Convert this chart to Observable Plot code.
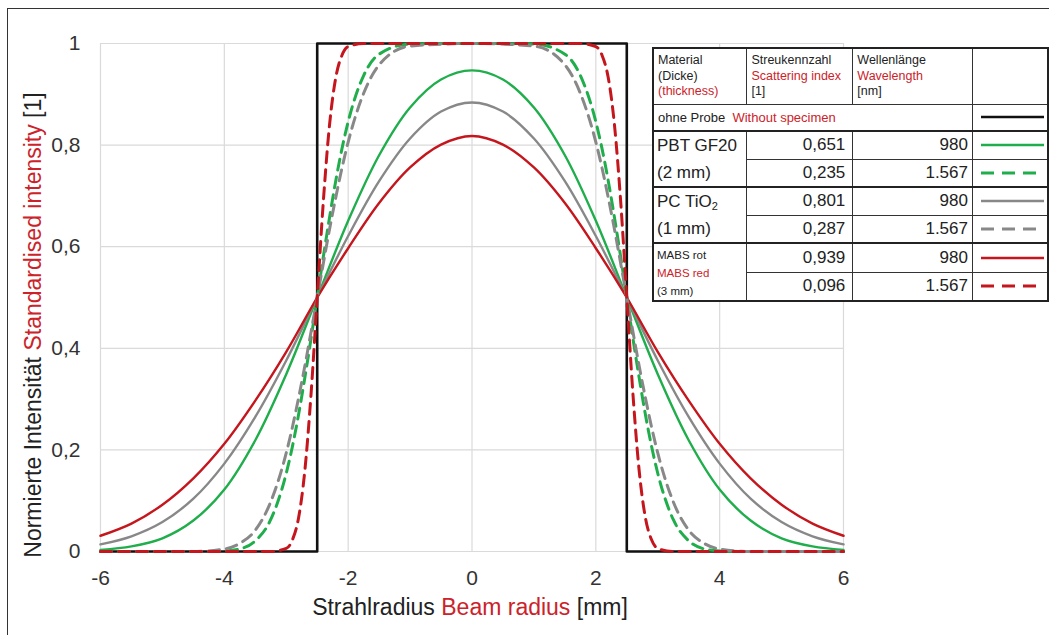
<!DOCTYPE html>
<html><head><meta charset="utf-8">
<script src="https://cdn.jsdelivr.net/npm/d3@7"></script>
<script src="https://cdn.jsdelivr.net/npm/@observablehq/plot@0.6"></script>
<style>
body{margin:0;background:#fff;font-family:"Liberation Sans",Arial,Helvetica,sans-serif;}
#wrap{position:relative;width:1049px;height:635px;overflow:hidden;background:#fff}
#chart{position:absolute;left:0;top:0}
#frame{position:absolute;left:7px;top:8px;width:1100px;height:700px;border-left:1.5px solid #333;border-top:1.5px solid #333;pointer-events:none}
#legend{position:absolute;left:652px;top:47px;border-collapse:collapse;table-layout:fixed;background:#fff;color:#222;border:2px solid #222}
#legend td{padding:0;border:1px solid #333;overflow:hidden;white-space:nowrap}
#legend .hd{vertical-align:top;font-size:12.5px;line-height:15.5px;padding:4px 0 0 4px}
#legend .big{font-size:17px;line-height:27px;vertical-align:top;padding-left:3px}
#legend .small{font-size:11.5px;line-height:18px;vertical-align:top;padding:2px 0 0 3px}
#legend .num{font-size:17px;text-align:right;line-height:20px}
#legend .c2{padding-right:7px}
#legend .c3{padding-right:4px}
#legend .sep td{border-top:2px solid #222}
#legend sub{font-size:11px;line-height:0;vertical-align:-3px}
.red{color:#cc2229}
</style></head>
<body><div id="wrap"><div id="chart"></div><div id="frame"></div><table id="legend"></table></div>
<script>
// ---- data ----
const xTicks = [-6, -4, -2, 0, 2, 4, 6];
const xTickLabels = ["-6", "-4", "-2", "0", "2", "4", "6"];
const yTicks = [0, 0.2, 0.4, 0.6, 0.8, 1];
const yTickLabels = ["0", "0,2", "0,4", "0,6", "0,8", "1"];

const xTitle = ["Strahlradius ", "Beam radius", " [mm]"];
const yTitle = ["Normierte Intensität ", "Standardised intensity", " [1]"];

// without specimen (top-hat)
const xOhne = [-6, -2.5, -2.5, 2.5, 2.5, 6];
const yOhne = [0, 0, 1, 1, 0, 0];

// solid curves (980 nm)
const xSolid = [-6,-5.5,-5,-4.5,-4,-3.5,-3,-2.5,-2,-1.5,-1,-0.5,0,0.5,1,1.5,2,2.5,3,3.5,4,4.5,5,5.5,6];
const pbt980  = [0.003,0.010,0.026,0.061,0.122,0.219,0.349,0.500,0.651,0.780,0.874,0.929,0.947,0.929,0.874,0.780,0.651,0.500,0.349,0.219,0.122,0.061,0.026,0.010,0.003];
const pc980   = [0.014,0.030,0.058,0.104,0.173,0.265,0.376,0.500,0.621,0.729,0.813,0.866,0.884,0.866,0.813,0.729,0.621,0.500,0.376,0.265,0.173,0.104,0.058,0.030,0.014];
const mabs980 = [0.031,0.055,0.092,0.144,0.212,0.297,0.393,0.500,0.597,0.686,0.756,0.801,0.818,0.801,0.756,0.686,0.597,0.500,0.393,0.297,0.212,0.144,0.092,0.055,0.031];

// dashed curves (1.567 nm)
const xDashed = [-6,-4.5,-4,-3.75,-3.5,-3.25,-3,-2.9,-2.8,-2.7,-2.6,-2.5,-2.4,-2.3,-2.2,-2.1,-2,-1.75,-1.5,-1,0,1,1.5,1.75,2,2.1,2.2,2.3,2.4,2.5,2.6,2.7,2.8,2.9,3,3.25,3.5,3.75,4,4.5,6];
const pbt1567  = [0,0,0.001,0.005,0.021,0.063,0.154,0.207,0.270,0.342,0.419,0.500,0.581,0.658,0.730,0.793,0.846,0.937,0.979,0.999,1,0.999,0.979,0.937,0.846,0.793,0.730,0.658,0.581,0.500,0.419,0.342,0.270,0.207,0.154,0.063,0.021,0.005,0.001,0,0];
const pc1567   = [0,0,0.005,0.016,0.042,0.098,0.194,0.245,0.303,0.365,0.432,0.500,0.568,0.635,0.697,0.755,0.806,0.902,0.958,0.995,1,0.995,0.958,0.902,0.806,0.755,0.697,0.635,0.568,0.500,0.432,0.365,0.303,0.245,0.194,0.098,0.042,0.016,0.005,0,0];
const mabs1567 = [0,0,0,0,0,0,0.006,0.023,0.067,0.159,0.309,0.500,0.691,0.841,0.933,0.977,0.994,1,1,1,1,1,1,1,0.994,0.977,0.933,0.841,0.691,0.500,0.309,0.159,0.067,0.023,0.006,0,0,0,0,0,0];

// legend table
const headers = [["Material", "(Dicke)", "(thickness)"], ["Streukennzahl", "Scattering index", "[1]"], ["Wellenlänge", "Wavelength", "[nm]"]];
const headerRedLine = [2, 1, 1];
const ohneLabel = ["ohne Probe", "Without specimen"];
const scatterIdx = ["0,651", "0,235", "0,801", "0,287", "0,939", "0,096"];
const waveLen = ["980", "1.567", "980", "1.567", "980", "1.567"];

// ---- styles ----
const GREEN = "#1fae4b", GRAY = "#888888", RED = "#c4161c", BLACK = "#111111", TXTRED = "#cc2229";
const rows = (xs, ys) => xs.map((x, i) => ({x, y: ys[i]}));
const dash = "11,7";

const chart = Plot.plot({
  width: 1049, height: 635,
  marginLeft: 100, marginRight: 206, marginTop: 43, marginBottom: 84,
  style: {fontFamily: "Liberation Sans, Arial, sans-serif", fontSize: "21px", color: "#333", background: "transparent"},
  x: {domain: [-6, 6], ticks: xTicks, tickFormat: d => xTickLabels[xTicks.indexOf(d)], tickSize: 0, tickPadding: 19, label: null},
  y: {domain: [0, 1], ticks: yTicks, tickFormat: d => yTickLabels[yTicks.indexOf(d)], tickSize: 0, tickPadding: 20, label: null},
  marks: [
    Plot.gridX(xTicks, {stroke: "#dadada", strokeOpacity: 1, strokeWidth: 1.2}),
    Plot.gridY(yTicks, {stroke: "#dadada", strokeOpacity: 1, strokeWidth: 1.2}),
    Plot.line(rows(xOhne, yOhne), {x: "x", y: "y", stroke: BLACK, strokeWidth: 2.6}),
    Plot.line(rows(xSolid, pbt980), {x: "x", y: "y", stroke: GREEN, strokeWidth: 2.4, curve: "catmull-rom"}),
    Plot.line(rows(xSolid, pc980), {x: "x", y: "y", stroke: GRAY, strokeWidth: 2.4, curve: "catmull-rom"}),
    Plot.line(rows(xSolid, mabs980), {x: "x", y: "y", stroke: RED, strokeWidth: 2.4, curve: "catmull-rom"}),
    Plot.line(rows(xDashed, pbt1567), {x: "x", y: "y", stroke: GREEN, strokeWidth: 3, strokeDasharray: dash, curve: "monotone-x"}),
    Plot.line(rows(xDashed, pc1567), {x: "x", y: "y", stroke: GRAY, strokeWidth: 3, strokeDasharray: dash, curve: "monotone-x"}),
    Plot.line(rows(xDashed, mabs1567), {x: "x", y: "y", stroke: RED, strokeWidth: 3, strokeDasharray: dash, curve: "monotone-x"})
  ]
});
document.getElementById("chart").appendChild(chart);

// axis titles (multi-coloured)
const svg = d3.select(chart);
const titleColors = ["#222", TXTRED, "#222"];
const xt = svg.append("text").attr("x", 470).attr("y", 615).attr("text-anchor", "middle")
  .style("font-size", "23px").style("font-family", "Liberation Sans, Arial, sans-serif");
xTitle.forEach((t, i) => xt.append("tspan").attr("fill", titleColors[i]).text(t));
const yt = svg.append("text").attr("transform", "translate(41,325) rotate(-90)").attr("text-anchor", "middle")
  .style("font-size", "23px").style("font-family", "Liberation Sans, Arial, sans-serif");
yTitle.forEach((t, i) => yt.append("tspan").attr("fill", titleColors[i]).text(t));

// legend table
const sample = (color, dashed) => `<svg width="74" height="12" style="display:block"><line x1="8" x2="${dashed ? 65 : 71}" y1="6" y2="6" stroke="${color}" stroke-width="${dashed ? 3 : 2.5}" ${dashed ? 'stroke-dasharray="13,8"' : ''}/></svg>`;
const hdCell = (h, ci) => `<td class="hd">${h.map((t, li) => li === headerRedLine[ci] ? `<span class="red">${t}</span>` : t).join("<br>")}</td>`;
let html = `<colgroup><col style="width:94px"><col style="width:106px"><col style="width:120px"><col style="width:74px"></colgroup>`;
html += `<tr style="height:56px">${headers.map(hdCell).join("")}<td></td></tr>`;
html += `<tr style="height:27px"><td colspan="3" style="font-size:13px;padding-left:4px">${ohneLabel[0]}&nbsp; <span class="red">${ohneLabel[1]}</span></td><td>${sample(BLACK, false)}</td></tr>`;
const groups = [
  {label: `<td rowspan="2" class="big">PBT GF20<br>(2 mm)</td>`, color: GREEN, h: [27, 27]},
  {label: `<td rowspan="2" class="big">PC TiO<sub>2</sub><br>(1 mm)</td>`, color: GRAY, h: [28, 28]},
  {label: `<td rowspan="2" class="small">MABS rot<br><span class="red">MABS red</span><br>(3 mm)</td>`, color: RED, h: [28, 28]}
];
groups.forEach((g, gi) => {
  for (let r = 0; r < 2; r++) {
    const k = gi * 2 + r;
    html += `<tr class="${r === 0 ? 'sep' : ''}" style="height:${g.h[r]}px">${r === 0 ? g.label : ''}<td class="num c2">${scatterIdx[k]}</td><td class="num c3">${waveLen[k]}</td><td>${sample(g.color, r === 1)}</td></tr>`;
  }
});
document.getElementById("legend").innerHTML = html;
</script>
</body></html>
